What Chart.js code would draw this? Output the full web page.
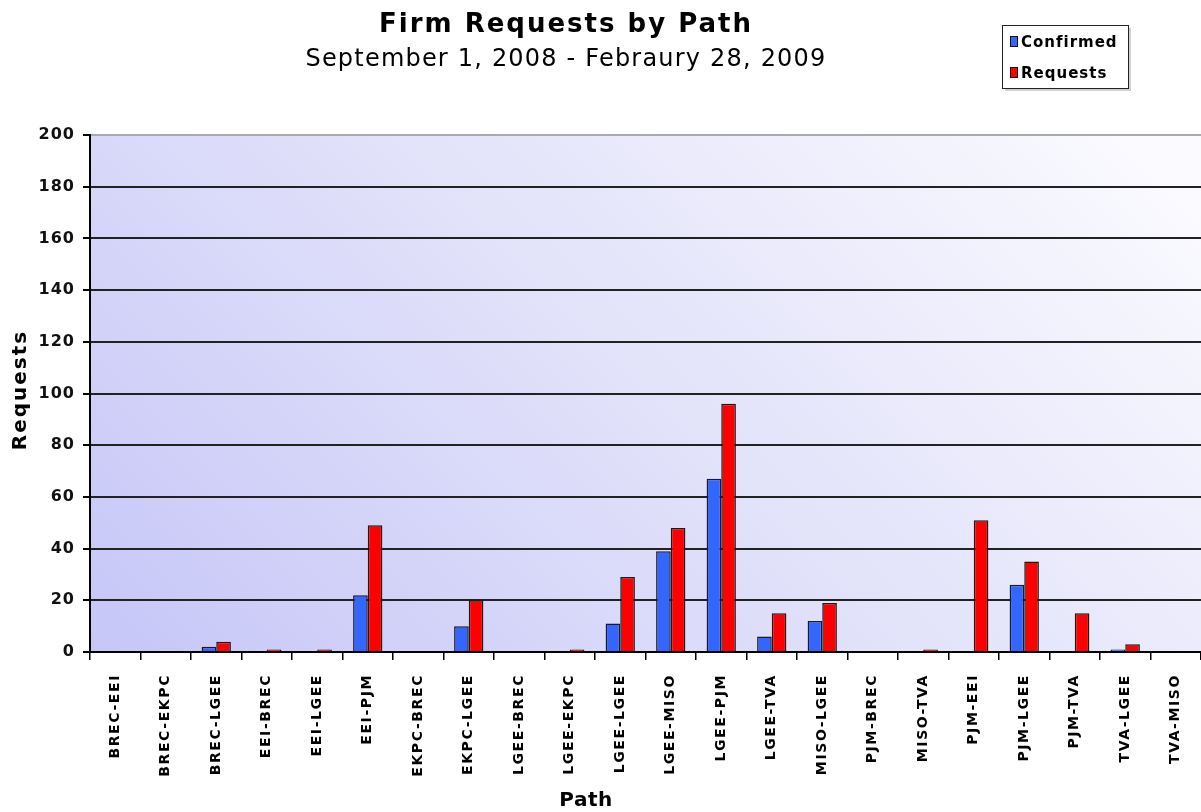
<!DOCTYPE html>
<html><head><meta charset="utf-8">
<script src="https://cdn.jsdelivr.net/npm/chart.js@4.4.1/dist/chart.umd.min.js"></script>
<style>html,body{margin:0;padding:0;background:#fff;overflow:hidden}</style>
</head><body>
<canvas id="c" width="1201" height="812" style="display:block;width:1201px;height:812px"></canvas>
<script>
const categories = ['BREC-EEI','BREC-EKPC','BREC-LGEE','EEI-BREC','EEI-LGEE','EEI-PJM','EKPC-BREC','EKPC-LGEE','LGEE-BREC','LGEE-EKPC','LGEE-LGEE','LGEE-MISO','LGEE-PJM','LGEE-TVA','MISO-LGEE','PJM-BREC','MISO-TVA','PJM-EEI','PJM-LGEE','PJM-TVA','TVA-LGEE','TVA-MISO'];
const confirmed = [0,0,2,0,0,22,0,10,0,0,11,39,67,6,12,0,0,0,26,0,1,0];
const requests  = [0,0,4,1,1,49,0,20,0,1,29,48,96,15,19,0,1,51,35,15,3,0];
const yTicks = [0,20,40,60,80,100,120,140,160,180,200];
const titleText = 'Firm Requests by Path';
const subtitleText = 'September 1, 2008 - Febraury 28, 2009';
const xTitle = 'Path';
const yTitle = 'Requests';
const FONT = "'DejaVu Sans', Verdana, sans-serif";

const bgPlugin = {
  id: 'bg',
  beforeDraw(chart) {
    const {ctx, chartArea: a} = chart;
    const W = a.right - a.left, H = a.bottom - a.top, d = (W + H) / 2;
    const g = ctx.createLinearGradient(a.left, a.bottom, a.left + d, a.bottom - d);
    g.addColorStop(0, '#c6c6f8');
    g.addColorStop(0.5, '#e2e2fa');
    g.addColorStop(1, '#fcfcff');
    ctx.save();
    ctx.fillStyle = g;
    ctx.fillRect(a.left, a.top, W, H);
    ctx.restore();
  }
};

function wrapLabels(scale, spacing) {
  if (!scale || scale._spaced) return;
  const orig = scale.drawLabels;
  scale.drawLabels = function(area) {
    const ctx = this.ctx;
    ctx.save();
    ctx.letterSpacing = spacing;
    orig.call(this, area);
    ctx.restore();
  };
  scale._spaced = true;
}

const spacingPlugin = {
  id: 'spacing',
  afterLayout(chart) {
    wrapLabels(chart.scales.x, '1.6px');
    wrapLabels(chart.scales.y, '1px');
  }
};

const textPlugin = {
  id: 'texts',
  afterDraw(chart) {
    const ctx = chart.ctx;
    ctx.save();
    ctx.fillStyle = '#000';
    ctx.textAlign = 'center';
    ctx.textBaseline = 'alphabetic';
    ctx.letterSpacing = '2px';
    ctx.font = "bold 26px " + FONT;
    ctx.fillText(titleText, 566, 32);
    ctx.letterSpacing = '1.2px';
    ctx.font = "24px " + FONT;
    ctx.fillText(subtitleText, 566, 66);
    ctx.letterSpacing = '0.5px';
    ctx.font = "bold 20px " + FONT;
    ctx.fillText(xTitle, 586, 806);
    ctx.save();
    ctx.translate(26, 390);
    ctx.rotate(-Math.PI / 2);
    ctx.letterSpacing = '2px';
    ctx.fillText(yTitle, 0, 0);
    ctx.restore();
    // legend box
    const bx = 1002, by = 25, bw = 126, bh = 63;
    ctx.fillStyle = 'rgba(0,0,0,0.18)';
    ctx.fillRect(bx + 3, by + 3, bw, bh);
    ctx.fillStyle = '#fff';
    ctx.fillRect(bx, by, bw, bh);
    ctx.strokeStyle = '#222';
    ctx.lineWidth = 1;
    ctx.strokeRect(bx + 0.5, by + 0.5, bw, bh);
    ctx.textAlign = 'left';
    ctx.letterSpacing = '1px';
    ctx.font = "bold 15px " + FONT;
    chart.data.datasets.forEach((ds, i) => {
      const yy = by + 17 + i * 31;
      ctx.fillStyle = ds.backgroundColor;
      ctx.fillRect(bx + 8, yy - 6, 8, 11);
      ctx.strokeStyle = '#111';
      ctx.strokeRect(bx + 8.5, yy - 5.5, 7, 10);
      ctx.fillStyle = '#000';
      ctx.fillText(ds.label, bx + 19, yy + 5);
    });
    ctx.restore();
  }
};

new Chart(document.getElementById('c'), {
  type: 'bar',
  data: {
    labels: categories,
    datasets: [
      {label: 'Confirmed', data: confirmed, backgroundColor: '#3366ff', borderColor: '#1a1a2a', borderWidth: 1.5, borderSkipped: 'bottom', categoryPercentage: 0.58, barPercentage: 1.0},
      {label: 'Requests', data: requests, backgroundColor: '#ff0000', borderColor: '#1a1a1a', borderWidth: 1.5, borderSkipped: 'bottom', categoryPercentage: 0.58, barPercentage: 1.0}
    ]
  },
  options: {
    responsive: false,
    animation: false,
    layout: {padding: {top: 135, right: -4, left: 0, bottom: 0}},
    plugins: {legend: {display: false}, title: {display: false}, tooltip: {enabled: false}},
    scales: {
      x: {
        ticks: {minRotation: 90, maxRotation: 90, autoSkip: false, color: '#000', padding: 14,
          font: {family: FONT, size: 14, weight: 'bold'}},
        grid: {drawOnChartArea: false, drawTicks: true, tickLength: 8, tickColor: '#000', lineWidth: 1.5, offset: true},
        border: {display: true, color: '#000', width: 2},
        afterFit(scale) { scale.height = 160; scale.paddingRight = 0; scale.paddingLeft = 0; }
      },
      y: {
        min: 0, max: 200,
        afterBuildTicks(scale) { scale.ticks = yTicks.map(v => ({value: v})); },
        ticks: {color: '#111', padding: 8, font: {family: FONT, size: 16, weight: 'bold'}},
        grid: {
          color: ctx => (ctx.tick && ctx.tick.value === 200) ? '#a8a8b0' : '#222',
          lineWidth: 2, tickLength: 7, tickColor: '#000', drawTicks: true
        },
        border: {display: true, color: '#000', width: 2},
        afterFit(scale) { scale.width = 90; }
      }
    }
  },
  plugins: [bgPlugin, spacingPlugin, textPlugin]
});
</script>
</body></html>
